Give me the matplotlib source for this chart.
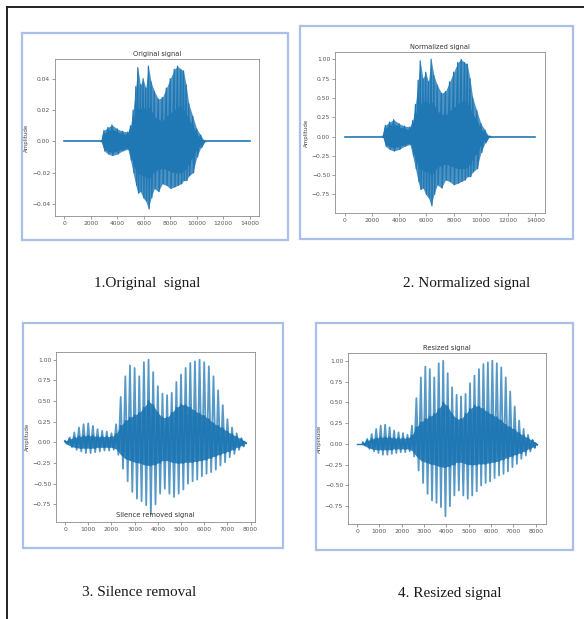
import matplotlib
matplotlib.use('Agg')
import numpy as np
import matplotlib.pyplot as plt
from matplotlib.patches import Rectangle
from matplotlib.lines import Line2D

W, H = 584, 619
BLUE = '#1f77b4'

# original recording, envelope (samples / amplitude)
orig_x = [2800, 3000, 3300, 3600, 4000, 4400, 4800, 5000, 5200, 5400, 5550, 5750, 5950, 6150, 6350, 6550,
          6800, 7100, 7400, 7700, 8000, 8300, 8550, 8800, 9000, 9200, 9400, 9700, 10000, 10300, 10600]
orig_hi = [0.000, 0.007, 0.009, 0.0105, 0.008, 0.0065, 0.006, 0.010, 0.020, 0.035, 0.047, 0.036, 0.040, 0.034,
           0.048, 0.038, 0.032, 0.027, 0.028, 0.034, 0.040, 0.046, 0.048, 0.046, 0.045, 0.036, 0.024, 0.016,
           0.008, 0.004, 0.000]
orig_lo = [0.000, -0.006, -0.008, -0.009, -0.008, -0.006, -0.005, -0.012, -0.020, -0.028, -0.033, -0.032,
           -0.036, -0.038, -0.043, -0.036, -0.030, -0.032, -0.027, -0.028, -0.030, -0.029, -0.028, -0.027,
           -0.025, -0.025, -0.022, -0.020, -0.010, -0.004, 0.000]
orig_core_hi = [0, 0.005, 0.007, 0.008, 0.006, 0.005, 0.004, 0.008, 0.014, 0.018, 0.020, 0.021, 0.022, 0.020,
                0.022, 0.020, 0.016, 0.014, 0.013, 0.016, 0.018, 0.020, 0.022, 0.022, 0.020, 0.018, 0.014,
                0.010, 0.005, 0.002, 0]
orig_core_lo = [0, -0.005, -0.006, -0.007, -0.006, -0.005, -0.004, -0.008, -0.014, -0.018, -0.020, -0.021,
                -0.022, -0.022, -0.024, -0.022, -0.019, -0.018, -0.017, -0.018, -0.019, -0.020, -0.020,
                -0.020, -0.019, -0.017, -0.014, -0.010, -0.005, -0.002, 0]
orig_len = 14000

# silence removed signal, peaks
trim_x = [0, 200, 400, 600, 800, 1000, 1200, 1400, 1600, 1800, 2000, 2200, 2400, 2600, 2800, 3000, 3200,
          3400, 3600, 3800, 4000, 4200, 4400, 4600, 4800, 5000, 5200, 5400, 5600, 5800, 6000, 6200, 6400,
          6600, 6800, 7000, 7200, 7400, 7600, 7700]
trim_hi = [0.02, 0.06, 0.12, 0.18, 0.22, 0.23, 0.20, 0.16, 0.14, 0.13, 0.11, 0.22, 0.55, 0.80, 0.93, 0.90,
           0.80, 0.97, 1.00, 0.85, 0.68, 0.59, 0.57, 0.60, 0.73, 0.82, 0.90, 0.96, 0.98, 1.00, 0.97, 0.92,
           0.80, 0.63, 0.45, 0.28, 0.18, 0.11, 0.05, 0.01]
trim_lo = [-0.02, -0.06, -0.09, -0.11, -0.13, -0.13, -0.12, -0.11, -0.10, -0.10, -0.09, -0.15, -0.32, -0.47,
           -0.60, -0.68, -0.71, -0.76, -0.87, -0.75, -0.62, -0.56, -0.62, -0.66, -0.62, -0.57, -0.50, -0.47,
           -0.45, -0.41, -0.38, -0.36, -0.33, -0.28, -0.24, -0.18, -0.14, -0.09, -0.05, -0.01]
trim_core_hi = [0.01, 0.04, 0.06, 0.07, 0.08, 0.08, 0.08, 0.07, 0.07, 0.07, 0.07, 0.10, 0.20, 0.26, 0.30,
                0.33, 0.36, 0.42, 0.50, 0.45, 0.36, 0.30, 0.30, 0.36, 0.42, 0.46, 0.45, 0.42, 0.38, 0.35,
                0.32, 0.28, 0.23, 0.20, 0.17, 0.13, 0.10, 0.07, 0.04, 0.01]
trim_core_lo = [-0.01, -0.04, -0.06, -0.07, -0.07, -0.07, -0.07, -0.06, -0.06, -0.06, -0.06, -0.08, -0.15,
                -0.20, -0.22, -0.24, -0.25, -0.27, -0.28, -0.27, -0.25, -0.22, -0.22, -0.24, -0.25, -0.25,
                -0.24, -0.24, -0.23, -0.22, -0.21, -0.19, -0.17, -0.15, -0.13, -0.11, -0.09, -0.06, -0.04,
                -0.01]
# resized signal: same peaks, padded at the start up to 8000 samples
resize_pad = 260
resize_len = 8000


def fig_rect(l, t, r, b):
    return [l / W, 1 - b / H, (r - l) / W, (b - t) / H]


def style_axes(ax):
    for s in ax.spines.values():
        s.set_color('#8c8c8c')
        s.set_linewidth(0.6)
    ax.tick_params(labelsize=4.3, length=2, width=0.4, pad=1.5, colors='#555555')
    ax.set_ylabel('Amplitude', fontsize=4.0, color='#444444', labelpad=2)


def zigzag(x, hi, lo, step):
    zx, zy = [], []
    for i in range(len(x)):
        zx += [x[i], x[i] + step]
        zy += [hi[i], lo[i]]
    return zx, zy


def dense_panel(ax, x, hi, lo, chi, clo, length):
    ax.plot([0, length], [0, 0], color=BLUE, lw=1.2)
    ax.fill_between(x, lo, hi, color=BLUE, alpha=0.8, lw=0)
    zx, zy = zigzag(x, hi, lo, 60)
    ax.plot(zx, zy, color=BLUE, lw=0.9)
    ax.fill_between(x, clo, chi, color=BLUE, lw=0)
    zx, zy = zigzag(x, chi, clo, 60)
    ax.plot(zx, zy, color=BLUE, lw=1.2)
    style_axes(ax)


def spiky_panel(ax, x, hi, lo, chi, clo, length, pad=0):
    xs = np.asarray(x, dtype=float) + pad
    ax.plot([0, pad + 1], [0, 0], color=BLUE, lw=1.0)
    zx, zy = zigzag(xs, hi, lo, 100)
    ax.plot(zx, zy, color=BLUE, lw=1.3, alpha=0.75)
    ax.fill_between(xs, clo, chi, color=BLUE, lw=0, alpha=0.9)
    zx, zy = zigzag(xs, chi, clo, 100)
    ax.plot(zx, zy, color=BLUE, lw=1.4)
    ax.plot([0, length], [0, 0], alpha=0)
    style_axes(ax)


def main():
    fig = plt.figure(figsize=(W / 100, H / 100), dpi=100)

    # page border
    fig.add_artist(Line2D([7 / W, 1], [1 - 7 / H, 1 - 7 / H], transform=fig.transFigure, color='#222222', lw=1.4))
    fig.add_artist(Line2D([7 / W, 7 / W], [0, 1 - 7 / H], transform=fig.transFigure, color='#222222', lw=1.4))

    # blue frames round the screenshots
    for l, t, r, b in [(22, 33, 288, 240), (300, 26, 573, 239), (23, 323, 283, 548), (316, 323, 573, 550)]:
        fig.add_artist(Rectangle((l / W, 1 - b / H), (r - l) / W, (b - t) / H, transform=fig.transFigure,
                                 fill=False, ec='#aabfea', lw=1.6))

    ax1 = fig.add_axes(fig_rect(55, 59, 259, 216))
    dense_panel(ax1, orig_x, orig_hi, orig_lo, orig_core_hi, orig_core_lo, orig_len)
    ax1.set_title('Original signal', fontsize=4.8, pad=2, color='#333333')

    peak = max(np.max(np.abs(orig_hi)), np.max(np.abs(orig_lo)))
    ax2 = fig.add_axes(fig_rect(335, 52, 545, 213))
    dense_panel(ax2, orig_x, np.array(orig_hi) / peak, np.array(orig_lo) / peak,
                np.array(orig_core_hi) / peak, np.array(orig_core_lo) / peak, orig_len)
    ax2.set_yticks([-0.75, -0.5, -0.25, 0, 0.25, 0.5, 0.75, 1.0])
    ax2.set_title('Normalized signal', fontsize=4.8, pad=2, color='#333333')

    ax3 = fig.add_axes(fig_rect(56, 352, 255, 522))
    spiky_panel(ax3, trim_x, trim_hi, trim_lo, trim_core_hi, trim_core_lo, trim_x[-1])
    ax3.set_yticks([-0.75, -0.5, -0.25, 0, 0.25, 0.5, 0.75, 1.0])
    ax3.set_title('Silence removed signal', fontsize=4.9, y=-0.02, color='#333333')

    ax4 = fig.add_axes(fig_rect(348, 353, 546, 524))
    spiky_panel(ax4, trim_x, trim_hi, trim_lo, trim_core_hi, trim_core_lo, resize_len, pad=resize_pad)
    ax4.set_yticks([-0.75, -0.5, -0.25, 0, 0.25, 0.5, 0.75, 1.0])
    ax4.set_title('Resized signal', fontsize=4.8, pad=2, color='#333333')

    captions = [('1.Original  signal', 147, 283), ('2. Normalized signal', 467, 283),
                ('3. Silence removal', 139, 592), ('4. Resized signal', 450, 593)]
    for txt, cx, cy in captions:
        fig.text(cx / W, 1 - cy / H, txt, ha='center', va='center', fontsize=11,
                 family='Liberation Serif', color='#1a1a1a')

    fig.savefig('out.png', dpi=100)


if __name__ == "__main__":
    main()
